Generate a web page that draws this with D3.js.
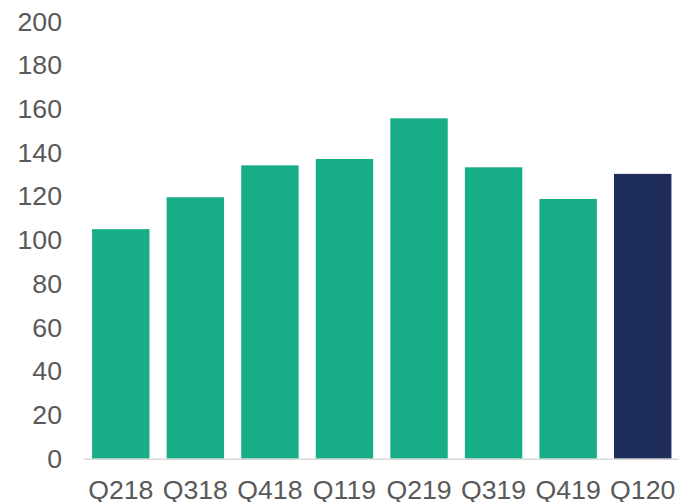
<!DOCTYPE html>
<html>
<head>
<meta charset="utf-8">
<script src="https://cdn.jsdelivr.net/npm/d3@7"></script>
<style>
  html, body { margin: 0; padding: 0; background: #ffffff; }
  svg { display: block; }
</style>
</head>
<body>
<svg id="chart" width="679" height="502"></svg>
<script>
const categories = ["Q218", "Q318", "Q418", "Q119", "Q219", "Q319", "Q419", "Q120"];
const values = [105, 119.6, 134.2, 137.1, 155.7, 133.3, 118.8, 130.3];
const barColors = ["#17AE87", "#17AE87", "#17AE87", "#17AE87", "#17AE87", "#17AE87", "#17AE87", "#1E2D5A"];
const yTicks = [0, 20, 40, 60, 80, 100, 120, 140, 160, 180, 200];

const svg = d3.select("#chart");
const font = "'Liberation Sans', Arial, sans-serif";

const x = d3.scaleBand()
  .domain(categories)
  .range([83.5, 680])
  .paddingInner(0.23)
  .paddingOuter(0.115);

const y = d3.scaleLinear()
  .domain([0, 200])
  .range([458.7, 21.5]);

// bars
svg.append("g")
  .selectAll("rect")
  .data(categories)
  .join("rect")
  .attr("x", d => x(d))
  .attr("width", x.bandwidth())
  .attr("y", (d, i) => y(values[i]))
  .attr("height", (d, i) => y(0) - y(values[i]))
  .attr("fill", (d, i) => barColors[i]);

// y axis (labels only)
const yAxis = d3.axisLeft(y).tickValues(yTicks).tickSize(0).tickPadding(0);
const gy = svg.append("g").attr("transform", "translate(62,0)").call(yAxis);
gy.select(".domain").remove();
gy.selectAll("text")
  .attr("font-family", font)
  .attr("font-size", "26.67px")
  .attr("fill", "#595959");

// x axis
const xAxis = d3.axisBottom(x).tickSize(0).tickPadding(0);
const gx = svg.append("g").attr("transform", `translate(0,${y(0)})`).call(xAxis);
gx.select(".domain")
  .attr("d", `M84.5,0.5H679`)
  .attr("stroke", "#D9D9D9")
  .attr("stroke-width", 1.5);
gx.selectAll("text")
  .attr("font-family", font)
  .attr("font-size", "26.67px")
  .attr("fill", "#595959")
  .attr("dy", null)
  .attr("y", 40);
</script>
</body>
</html>
